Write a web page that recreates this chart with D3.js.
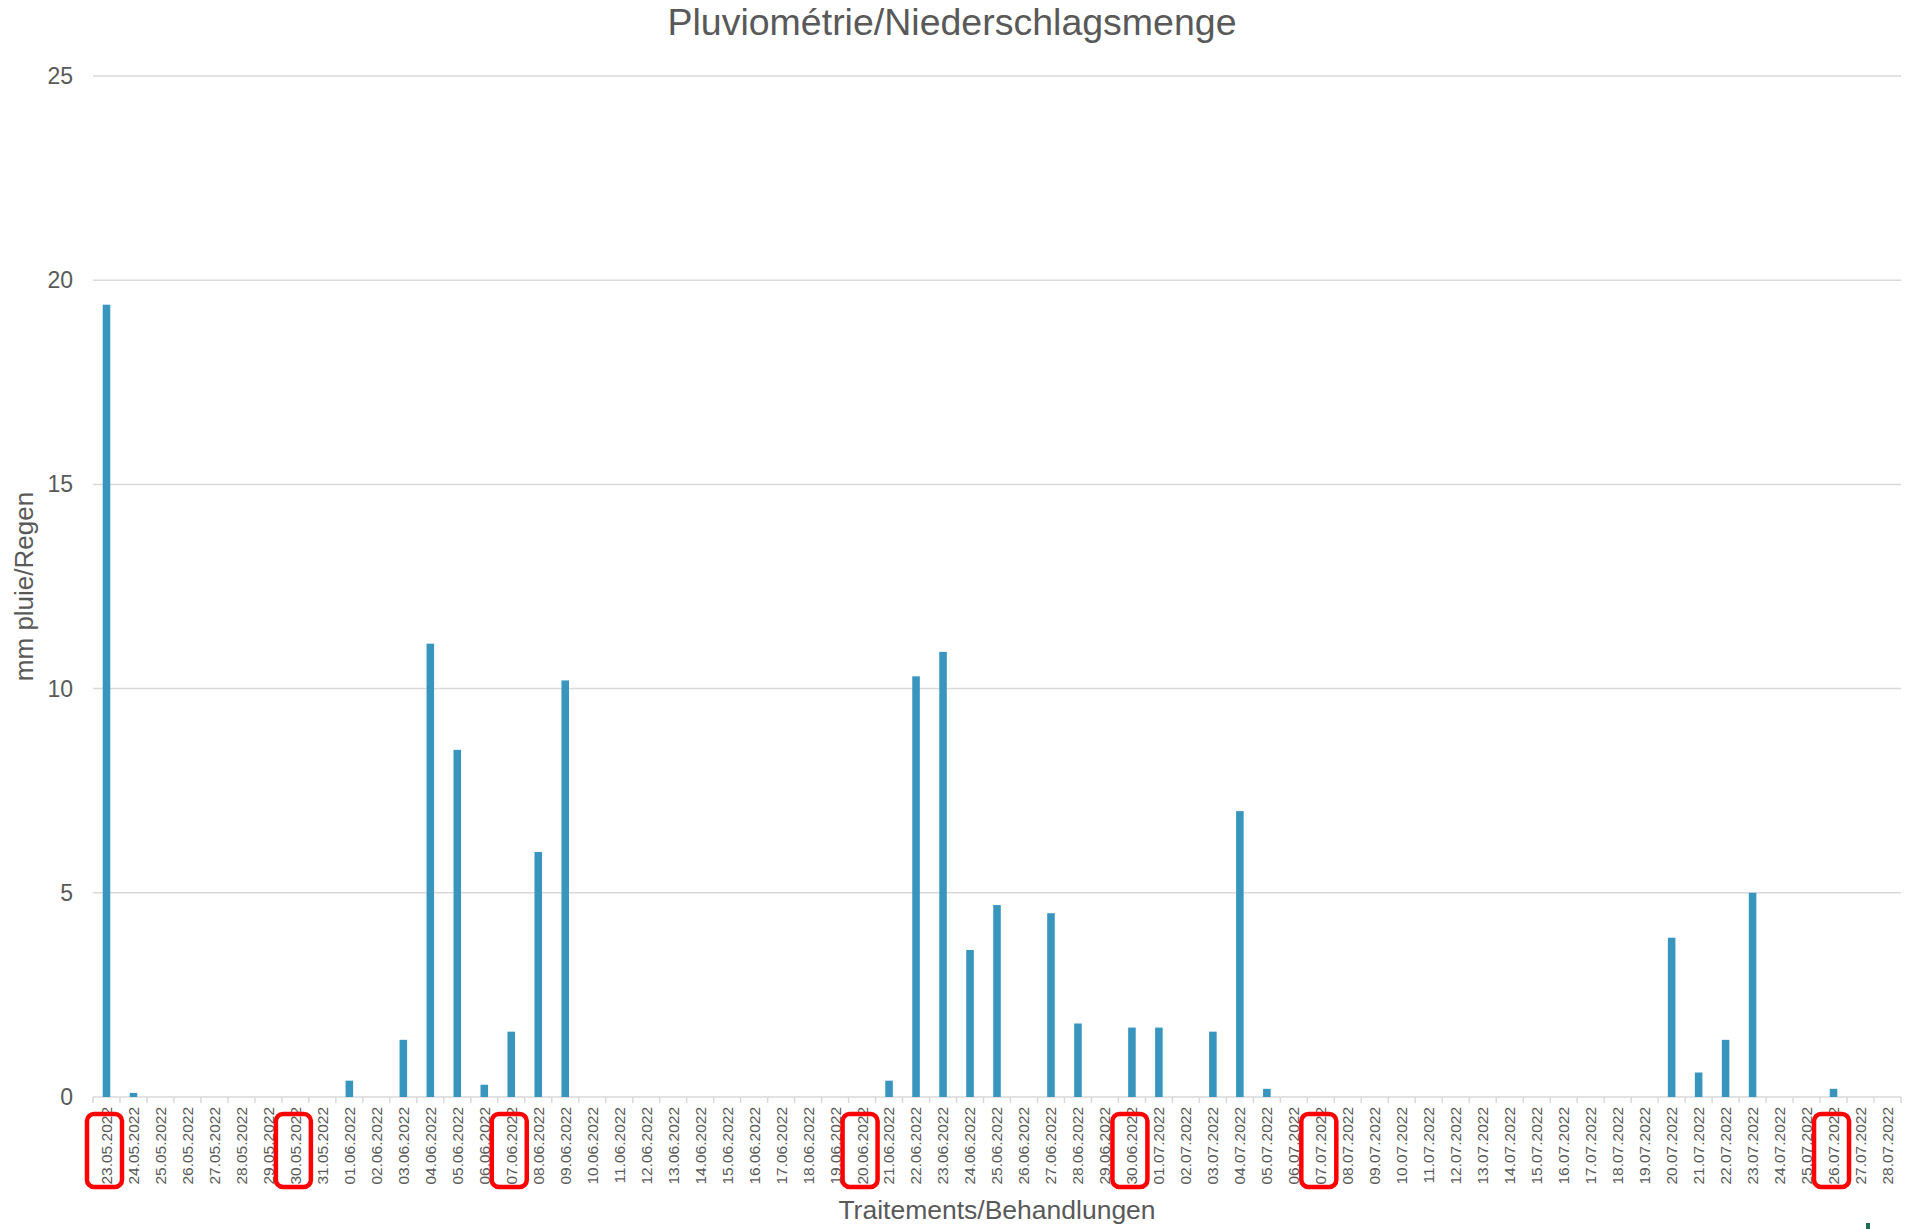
<!DOCTYPE html>
<html>
<head>
<meta charset="utf-8">
<script src="https://cdn.jsdelivr.net/npm/d3@7"></script>
<style>
  body { margin: 0; background: #fff; }
  svg text { font-family: "Liberation Sans", Arial, sans-serif; fill: #595959; }
</style>
</head>
<body>
<div id="chart"></div>
<script>
// daily rain, 23.05.2022 - 28.07.2022
var dates = [
  '23.05.2022','24.05.2022','25.05.2022','26.05.2022','27.05.2022','28.05.2022','29.05.2022','30.05.2022','31.05.2022',
  '01.06.2022','02.06.2022','03.06.2022','04.06.2022','05.06.2022','06.06.2022','07.06.2022','08.06.2022','09.06.2022','10.06.2022',
  '11.06.2022','12.06.2022','13.06.2022','14.06.2022','15.06.2022','16.06.2022','17.06.2022','18.06.2022','19.06.2022','20.06.2022',
  '21.06.2022','22.06.2022','23.06.2022','24.06.2022','25.06.2022','26.06.2022','27.06.2022','28.06.2022','29.06.2022','30.06.2022',
  '01.07.2022','02.07.2022','03.07.2022','04.07.2022','05.07.2022','06.07.2022','07.07.2022','08.07.2022','09.07.2022','10.07.2022',
  '11.07.2022','12.07.2022','13.07.2022','14.07.2022','15.07.2022','16.07.2022','17.07.2022','18.07.2022','19.07.2022','20.07.2022',
  '21.07.2022','22.07.2022','23.07.2022','24.07.2022','25.07.2022','26.07.2022','27.07.2022','28.07.2022'
];
var rain = [
  19.4, 0.1, 0, 0, 0, 0, 0, 0, 0,
  0.4, 0, 1.4, 11.1, 8.5, 0.3, 1.6, 6.0, 10.2, 0,
  0, 0, 0, 0, 0, 0, 0, 0, 0, 0,
  0.4, 10.3, 10.9, 3.6, 4.7, 0, 4.5, 1.8, 0, 1.7,
  1.7, 0, 1.6, 7.0, 0.2, 0, 0, 0, 0, 0,
  0, 0, 0, 0, 0, 0, 0, 0, 0, 3.9,
  0.6, 1.4, 5.0, 0, 0, 0.2, 0, 0
];
// treatment days (boxed in red)
var treatments = ['23.05.2022','30.05.2022','07.06.2022','20.06.2022','30.06.2022','07.07.2022','26.07.2022'];
var yTicks = [0, 5, 10, 15, 20, 25];

var W = 1918, H = 1229;
var margin = {top: 76, right: 17, bottom: 132, left: 93};

var svg = d3.select('#chart').append('svg')
    .attr('width', W).attr('height', H);

var x = d3.scaleBand()
    .domain(dates)
    .range([margin.left, W - margin.right])
    .padding(0);

var y = d3.scaleLinear()
    .domain([0, 25])
    .range([H - margin.bottom, margin.top]);

var y0 = y(0);

// gridlines
svg.append('g')
    .selectAll('line')
    .data(yTicks)
    .join('line')
    .attr('x1', margin.left).attr('x2', W - margin.right)
    .attr('y1', d => y(d)).attr('y2', d => y(d))
    .attr('stroke', '#d9d9d9').attr('stroke-width', 1.5);

// y labels
svg.append('g')
    .selectAll('text')
    .data(yTicks)
    .join('text')
    .attr('x', 73).attr('y', d => y(d))
    .attr('dy', '0.35em')
    .attr('text-anchor', 'end')
    .style('font-size', '23px')
    .text(d => d);

// bars
var barW = x.bandwidth() * 0.28;
svg.append('g')
    .selectAll('rect')
    .data(rain)
    .join('rect')
    .attr('x', (d, i) => x(dates[i]) + (x.bandwidth() - barW) / 2)
    .attr('y', d => y(d))
    .attr('width', barW)
    .attr('height', d => y0 - y(d))
    .attr('fill', '#3795be');

// x axis: ticks sit on category boundaries like excel
var boundaries = dates.map(d => x(d)).concat([x(dates[dates.length - 1]) + x.bandwidth()]);
svg.append('g')
    .selectAll('line')
    .data(boundaries)
    .join('line')
    .attr('x1', d => d).attr('x2', d => d)
    .attr('y1', y0).attr('y2', y0 + 6)
    .attr('stroke', '#d9d9d9').attr('stroke-width', 1.5);

var xAxis = svg.append('g')
    .attr('transform', 'translate(0,' + y0 + ')')
    .call(d3.axisBottom(x).tickSize(0));
xAxis.select('.domain').remove();
xAxis.selectAll('text')
    .attr('y', 0).attr('x', -10)
    .attr('dy', '0.35em')
    .attr('transform', 'rotate(-90)')
    .attr('text-anchor', 'end')
    .style('font-size', '15.5px')
    .style('font-family', '"Liberation Sans", Arial, sans-serif')
    .attr('fill', '#595959');

// red boxes round treatment labels
svg.append('g')
    .selectAll('rect')
    .data(treatments)
    .join('rect')
    .attr('x', d => x(d) + x.bandwidth() / 2 - 19.5)
    .attr('y', y0 + 17)
    .attr('width', 35)
    .attr('height', 73)
    .attr('rx', 7)
    .attr('fill', 'none')
    .attr('stroke', '#ff0000')
    .attr('stroke-width', 4.5);

// titles
svg.append('text')
    .attr('x', 952).attr('y', 35)
    .attr('text-anchor', 'middle')
    .style('font-size', '37.5px')
    .text('Pluviométrie/Niederschlagsmenge');

svg.append('text')
    .attr('x', (margin.left + W - margin.right) / 2).attr('y', 1219)
    .attr('text-anchor', 'middle')
    .style('font-size', '26.5px')
    .text('Traitements/Behandlungen');

svg.append('text')
    .attr('transform', 'translate(33,' + (margin.top + y0) / 2 + ')rotate(-90)')
    .attr('text-anchor', 'middle')
    .style('font-size', '26px')
    .text('mm pluie/Regen');

// leftover logo fragment in the corner
svg.append('rect')
    .attr('x', 1866).attr('y', 1223).attr('width', 4).attr('height', 6)
    .attr('fill', '#1f6e4f');
</script>
</body>
</html>
